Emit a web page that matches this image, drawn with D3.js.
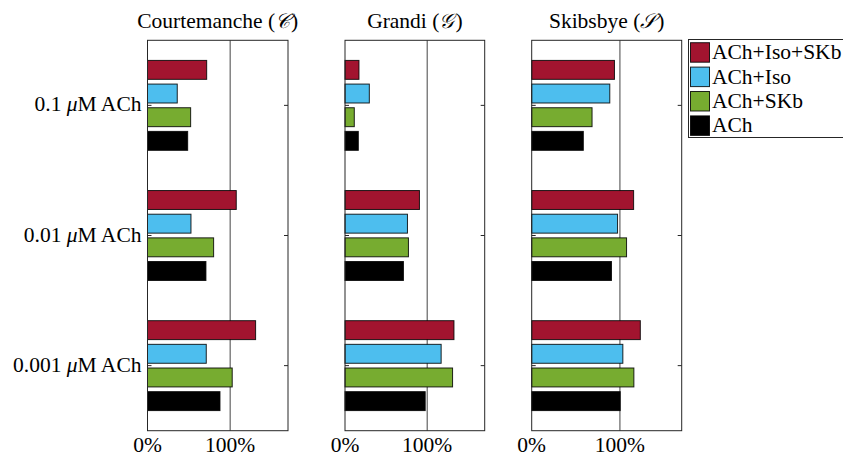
<!DOCTYPE html>
<html><head><meta charset="utf-8">
<script src="https://cdn.jsdelivr.net/npm/d3@7"></script>
<style>
html,body{margin:0;padding:0;background:#fff;overflow:hidden}
text{font-family:"Liberation Serif","Times New Roman",serif;fill:#000}
</style></head>
<body><svg id="c" width="843" height="457"></svg>
<script>
// ---- data ----
const categories = ["0.1", "0.01", "0.001"];           // µM ACh
const seriesNames = ["ACh+Iso+SKb", "ACh+Iso", "ACh+SKb", "ACh"];
const seriesColors = ["#A2142F", "#4DBEEE", "#77AC30", "#000000"];
const xTicks = [0, 100];
const xTickLabels = ["0%", "100%"];
// values in % (rows = series, columns = categories)
const courtemanche = [[71.6, 107.4, 130.8], [36, 52.6, 71.1], [52.2, 80, 102.5], [48.6, 70.7, 87.7]];
const grandi       = [[17, 90.6, 132.6], [29.6, 76, 117], [11.3, 77.2, 130.9], [16.2, 71.1, 97.6]];
const skibsbye     = [[93.8, 115.5, 123.1], [88.5, 97.3, 103.3], [68.4, 107.5, 115.8], [58.5, 90.4, 100.3]];
const modelTitles = ["Courtemanche", "Grandi", "Skibsbye"];
const modelSymbols = ["\u{1D49E}", "\u{1D4A2}", "\u{1D4AE}"];

const models = [courtemanche, grandi, skibsbye];
const panels = [{x0: 147.5, x1: 288}, {x0: 345, x1: 484.7}, {x0: 531.7, x1: 681.7}];
const plotTop = 40.3, plotBottom = 430.7;
const FS = 21.5;

const svg = d3.select("#c");
const y = d3.scaleLinear().domain([0.5, 3.5]).range([plotTop, plotBottom]);
const nS = seriesNames.length;
const groupW = Math.min(0.8, nS / (nS + 1.5));
const barH = 0.8 * groupW / nS;
const offset = i => (i - (nS - 1) / 2) * groupW / nS;

models.forEach((data, m) => {
  const p = panels[m];
  const x = d3.scaleLinear().domain([0, 170]).range([p.x0, p.x1]);
  const g = svg.append("g");

  // 100% reference line
  g.append("line").attr("x1", x(100)).attr("x2", x(100))
    .attr("y1", plotTop).attr("y2", plotBottom)
    .attr("stroke", "#444").attr("stroke-width", 1);

  // bars
  data.forEach((vals, s) => {
    g.selectAll(null).data(vals).enter().append("rect")
      .attr("x", x(0))
      .attr("y", (d, i) => y(i + 1 + offset(s) - barH / 2))
      .attr("width", d => x(d) - x(0))
      .attr("height", y(barH) - y(0))
      .attr("fill", seriesColors[s])
      .attr("stroke", "#000").attr("stroke-width", 1).attr("stroke-opacity", 0.85);
  });

  // box
  g.append("rect").attr("x", p.x0).attr("y", plotTop)
    .attr("width", p.x1 - p.x0).attr("height", plotBottom - plotTop)
    .attr("fill", "none").attr("stroke", "#262626").attr("stroke-width", 1);

  // y ticks (inside, both sides)
  categories.forEach((c, i) => {
    const yy = y(i + 1);
    g.append("line").attr("x1", p.x0).attr("x2", p.x0 + 4).attr("y1", yy).attr("y2", yy).attr("stroke", "#262626");
    g.append("line").attr("x1", p.x1).attr("x2", p.x1 - 4).attr("y1", yy).attr("y2", yy).attr("stroke", "#262626");
  });

  // x tick labels
  xTicks.forEach((t, i) => {
    g.append("text").attr("x", x(t)).attr("y", 452)
      .attr("text-anchor", "middle").attr("font-size", FS).text(xTickLabels[i]);
  });

  // title: separate text pieces so the serif face is kept for the words
  const t1 = g.append("text").attr("y", 28).attr("font-size", FS).text(modelTitles[m] + " (");
  const t2 = g.append("text").attr("y", 28).attr("font-size", FS - 1).attr("font-style", "italic")
    .style("font-family", "'DejaVu Serif', serif").text(modelSymbols[m]);
  const t3 = g.append("text").attr("y", 28).attr("font-size", FS).text(")");
  const w1 = t1.node().getComputedTextLength();
  const w2 = t2.node().getComputedTextLength();
  const w3 = t3.node().getComputedTextLength();
  const sx = (p.x0 + p.x1) / 2 - (w1 + w2 + w3 + 1) / 2;
  t1.attr("x", sx);
  t2.attr("x", sx + w1);
  t3.attr("x", sx + w1 + w2 + 1);

  // y labels on first panel
  if (m === 0) {
    categories.forEach((c, i) => {
      const t = g.append("text").attr("x", 141.5).attr("y", y(i + 1) + 6)
        .attr("text-anchor", "end").attr("font-size", FS);
      t.append("tspan").text(c + " ");
      t.append("tspan").attr("font-style", "italic").text("\u03BC");
      t.append("tspan").text("M ACh");
    });
  }
});

// legend
const lg = svg.append("g");
lg.append("rect").attr("x", 688.5).attr("y", 39.5).attr("width", 170).attr("height", 98)
  .attr("fill", "#fff").attr("stroke", "#262626").attr("stroke-width", 1);
seriesNames.forEach((n, i) => {
  const yy = 42.7 + i * 24.4;
  lg.append("rect").attr("x", 690.5).attr("y", yy).attr("width", 19).attr("height", 19.5)
    .attr("fill", seriesColors[i]).attr("stroke", "#000").attr("stroke-opacity", 0.85);
  lg.append("text").attr("x", 712).attr("y", yy + 16.5).attr("font-size", 21.5).text(n);
});
</script></body></html>
